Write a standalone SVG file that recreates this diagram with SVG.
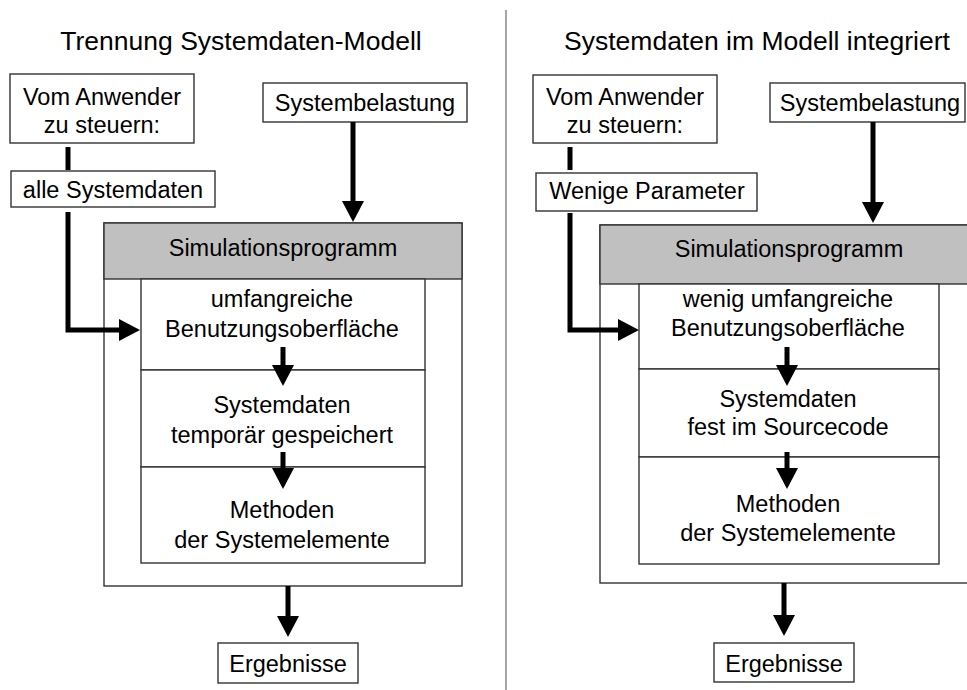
<svg xmlns="http://www.w3.org/2000/svg" width="967" height="690" viewBox="0 0 967 690">
<style>
text{font-family:"Liberation Sans",Arial,sans-serif;font-size:23.5px;fill:#000;text-anchor:middle}
.title{font-size:26.5px}
.box{fill:#fff;stroke:#333;stroke-width:1.4}
.hdr{fill:#c0c0c0;stroke:#333;stroke-width:1.4}
.con{fill:none;stroke:#000;stroke-width:5}
.arr{marker-end:url(#ah)}
</style>
<defs>
<marker id="ah" markerUnits="userSpaceOnUse" markerWidth="21" markerHeight="22" refX="1" refY="11" orient="auto">
<path d="M0,0 L21,11 L0,22 z" fill="#000"/>
</marker>
</defs>
<rect width="967" height="690" fill="#fff"/>
<line x1="506" y1="10" x2="506" y2="690" stroke="#777" stroke-width="1.3"/>
<text class="title" x="241" y="50">Trennung Systemdaten-Modell</text>
<text class="title" x="757" y="50">Systemdaten im Modell integriert</text>

<g id="L-outer"><rect class="box" x="104" y="223" width="358" height="363"/></g>
<g id="L-sim"><rect class="hdr" x="104" y="223" width="358" height="56"/><text x="283" y="256">Simulationsprogramm</text></g>
<g id="L-ui"><rect class="box" x="141" y="279" width="284" height="91"/><text x="282" y="307">umfangreiche</text><text x="282" y="337">Benutzungsoberfläche</text></g>
<g id="L-data"><rect class="box" x="141" y="370" width="284" height="97"/><text x="282" y="413">Systemdaten</text><text x="282" y="443">temporär gespeichert</text></g>
<g id="L-meth"><rect class="box" x="141" y="467" width="284" height="96"/><text x="282" y="518">Methoden</text><text x="282" y="548">der Systemelemente</text></g>
<g id="L-user"><rect class="box" x="10" y="74" width="184" height="69"/><text x="102" y="105">Vom Anwender</text><text x="102" y="133">zu steuern:</text></g>
<g id="L-all"><rect class="box" x="11" y="171" width="204" height="36"/><text x="113" y="198">alle Systemdaten</text></g>
<g id="L-load"><rect class="box" x="263" y="83" width="204" height="39"/><text x="365" y="111">Systembelastung</text></g>
<g id="L-res"><rect class="box" x="218" y="643" width="140" height="40"/><text x="288" y="672">Ergebnisse</text></g>

<g id="R-outer"><rect class="box" x="600" y="225" width="370" height="358"/></g>
<g id="R-sim"><rect class="hdr" x="600" y="225" width="370" height="59"/><text x="789" y="257">Simulationsprogramm</text></g>
<g id="R-ui"><rect class="box" x="639" y="284" width="300" height="85"/><text x="788" y="307">wenig umfangreiche</text><text x="788" y="336">Benutzungsoberfläche</text></g>
<g id="R-data"><rect class="box" x="639" y="369" width="300" height="88"/><text x="788" y="407">Systemdaten</text><text x="788" y="435">fest im Sourcecode</text></g>
<g id="R-meth"><rect class="box" x="639" y="457" width="300" height="107"/><text x="788" y="512">Methoden</text><text x="788" y="541">der Systemelemente</text></g>
<g id="R-user"><rect class="box" x="533" y="75" width="184" height="68"/><text x="625" y="105">Vom Anwender</text><text x="625" y="133">zu steuern:</text></g>
<g id="R-few"><rect class="box" x="536" y="173" width="221" height="38"/><text x="647" y="199">Wenige Parameter</text></g>
<g id="R-load"><rect class="box" x="770" y="83" width="195" height="39"/><text x="870" y="111">Systembelastung</text></g>
<g id="R-res"><rect class="box" x="714" y="643" width="140" height="39"/><text x="784" y="672">Ergebnisse</text></g>

<g id="connectors">
<line class="con" x1="68" y1="147" x2="68" y2="170"/>
<polyline class="con arr" points="68,212 68,330 120,330"/>
<line class="con arr" x1="353" y1="122" x2="353" y2="202"/>
<line class="con arr" x1="283" y1="347" x2="283" y2="366"/>
<line class="con arr" x1="283" y1="452" x2="283" y2="469"/>
<line class="con arr" x1="288" y1="586" x2="288" y2="617"/>

<line class="con" x1="570" y1="147" x2="570" y2="170"/>
<polyline class="con arr" points="570,213 570,330 619,330"/>
<line class="con arr" x1="873" y1="122" x2="873" y2="203"/>
<line class="con arr" x1="787" y1="347" x2="787" y2="366"/>
<line class="con arr" x1="787" y1="452" x2="787" y2="469"/>
<line class="con arr" x1="784" y1="583" x2="784" y2="616"/>
</g>
</svg>
